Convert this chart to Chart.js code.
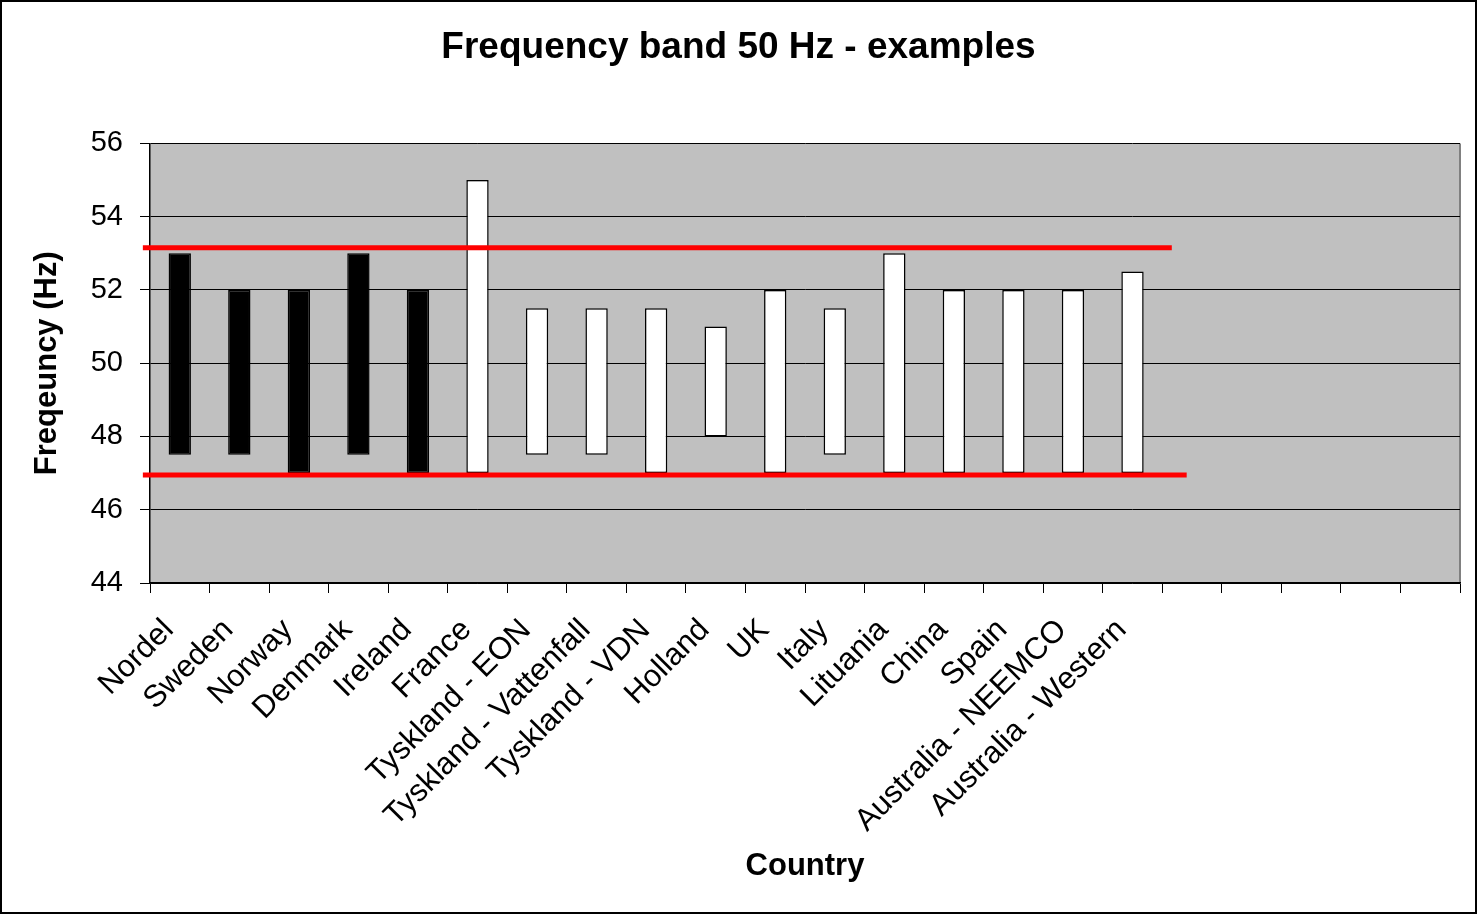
<!DOCTYPE html>
<html>
<head>
<meta charset="utf-8">
<script src="https://cdn.jsdelivr.net/npm/chart.js@4"></script>
<style>
  html, body { margin: 0; padding: 0; background: #fff; }
  #wrap { width: 1477px; height: 914px; }
</style>
</head>
<body>
<div id="wrap"><canvas id="chart" width="1477" height="914"></canvas></div>
<script>
// categories (last five slots are empty in the original)
const countries = ['Nordel', 'Sweden', 'Norway', 'Denmark', 'Ireland', 'France',
  'Tyskland - EON', 'Tyskland - Vattenfall', 'Tyskland - VDN', 'Holland', 'UK', 'Italy',
  'Lituania', 'China', 'Spain', 'Australia - NEEMCO', 'Australia - Western',
  '', '', '', '', ''];
const lowHz  = [47.5, 47.5, 47, 47.5, 47, 47, 47.5, 47.5, 47, 48, 47, 47.5, 47, 47, 47, 47, 47];
const highHz = [53, 52, 52, 53, 52, 55, 51.5, 51.5, 51.5, 51, 52, 51.5, 53, 52, 52, 52, 52.5];
const nordicCount = 5; // first five drawn black

// red limit lines, x in category-slot units
const upperLimit = [{ x: -0.12, y: 53.15 }, { x: 17.16, y: 53.15 }];
const lowerLimit = [{ x: -0.12, y: 46.95 }, { x: 17.41, y: 46.95 }];

const yTicks = [44, 46, 48, 50, 52, 54, 56];

const bands = lowHz.map((lo, i) => [lo, highHz[i]]);
const fills = bands.map((_, i) => i < nordicCount ? '#000000' : '#ffffff');

const FONT = 'Liberation Sans, Arial, sans-serif';

const background = {
  id: 'background',
  beforeDraw(chart) {
    const { ctx, chartArea: a } = chart;
    ctx.save();
    ctx.fillStyle = '#ffffff';
    ctx.fillRect(0, 0, chart.width, chart.height);
    ctx.fillStyle = '#c0c0c0';
    ctx.fillRect(a.left, a.top, a.right - a.left, a.bottom - a.top);
    ctx.strokeStyle = '#808080';
    ctx.lineWidth = 2;
    ctx.beginPath();
    ctx.moveTo(a.right, a.top);
    ctx.lineTo(a.right, a.bottom);
    ctx.stroke();
    ctx.restore();
  },
  afterDraw(chart) {
    const ctx = chart.ctx;
    ctx.save();
    ctx.strokeStyle = '#000';
    ctx.lineWidth = 2;
    ctx.strokeRect(1, 1, chart.width - 2, chart.height - 2);
    ctx.restore();
  }
};

const ctx = document.getElementById('chart').getContext('2d');
new Chart(ctx, {
  type: 'bar',
  data: {
    labels: countries,
    datasets: [
      {
        type: 'line',
        data: upperLimit,
        xAxisID: 'x2',
        borderColor: '#ff0000',
        borderWidth: 5,
        pointRadius: 0,
        clip: false,
        order: 0
      },
      {
        type: 'line',
        data: lowerLimit,
        xAxisID: 'x2',
        borderColor: '#ff0000',
        borderWidth: 5,
        pointRadius: 0,
        clip: false,
        order: 0
      },
      {
        label: 'Frequency band',
        data: bands,
        backgroundColor: fills,
        borderColor: '#000000',
        borderWidth: 1.5,
        borderSkipped: false,
        grouped: false,
        barPercentage: 0.375,
        categoryPercentage: 1,
        order: 1
      }
    ]
  },
  options: {
    responsive: false,
    animation: false,
    layout: { padding: 0 },
    plugins: {
      legend: { display: false },
      tooltip: { enabled: false },
      title: {
        display: true,
        text: 'Frequency band 50 Hz - examples',
        color: '#000',
        font: { family: FONT, size: 37, weight: 'bold' },
        padding: { top: 26, bottom: 73 }
      }
    },
    scales: {
      x: {
        grid: { display: true, drawOnChartArea: false, drawTicks: true, tickLength: 10, color: '#000', offset: true },
        border: { color: '#000', width: 1.5 },
        ticks: {
          autoSkip: false,
          maxRotation: 45,
          minRotation: 45,
          padding: 8,
          color: '#000',
          font: { family: FONT, size: 31 },
          // trailing en space nudges the rotated label down-left like the original
          callback: (v) => countries[v] ? countries[v] + '\u2002' : ''
        },
        title: {
          display: true,
          text: 'Country',
          color: '#000',
          font: { family: FONT, size: 31, weight: 'bold' },
          padding: { top: 0, bottom: 29 }
        },
        afterFit(scale) { scale.height = 331; }
      },
      x2: {
        type: 'linear',
        display: false,
        offset: false,
        min: 0,
        max: 22
      },
      y: {
        min: 44,
        max: 56,
        afterBuildTicks(scale) { scale.ticks = yTicks.map(v => ({ value: v })); },
        grid: { color: '#000', lineWidth: 1, tickLength: 10 },
        border: { color: '#000', width: 1.5 },
        ticks: {
          padding: 17,
          color: '#000',
          font: { family: FONT, size: 29 }
        },
        title: {
          display: true,
          text: 'Freqeuncy (Hz)',
          color: '#000',
          font: { family: FONT, size: 31, weight: 'bold' },
          padding: { top: 29, bottom: 0 }
        },
        afterFit(scale) { scale.width = 150; }
      },
      // empty right-hand strip so the title centres on the whole picture
      yPad: {
        position: 'right',
        display: true,
        grid: { display: false },
        border: { display: false },
        ticks: { display: false },
        afterFit(scale) { scale.width = 17; }
      }
    }
  },
  plugins: [background]
});
</script>
</body>
</html>
